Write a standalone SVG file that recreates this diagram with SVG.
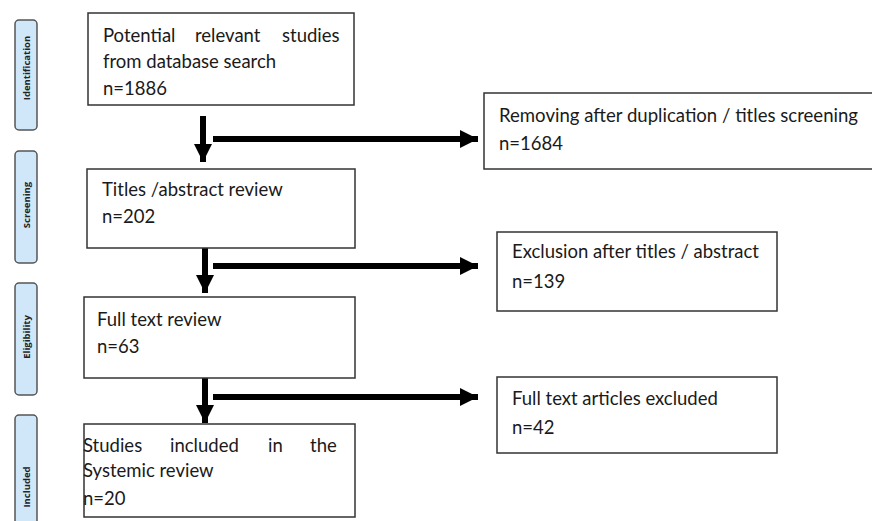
<svg xmlns="http://www.w3.org/2000/svg" width="872" height="521" viewBox="0 0 872 521">
<defs>
<style>
.box{fill:#fff;stroke:#333;stroke-width:1.5}
.side{fill:#cfe7f8;stroke:#555;stroke-width:1.5}
.t{font-family:Lato,"Liberation Sans",sans-serif;font-size:18.5px;fill:#1a1a1a}
.s{font-family:"Open Sans","Liberation Sans",sans-serif;font-size:9.5px;font-weight:bold;fill:#222;text-anchor:middle}
.arr{stroke:#000;stroke-width:6;fill:none;marker-end:url(#ah)}
</style>
<marker id="ah" markerUnits="userSpaceOnUse" markerWidth="19" markerHeight="19" refX="18" refY="9" orient="auto">
<path d="M0,0 L18,9 L0,18 z" fill="#000"/>
</marker>
</defs>
<rect width="872" height="521" fill="#fff"/>
<g id="side-identification"><rect class="side" x="15" y="20" width="22" height="110" rx="4"/><text class="s" transform="translate(29.5,68) rotate(-90)">Identification</text></g>
<g id="side-screening"><rect class="side" x="15" y="151" width="22" height="112" rx="4"/><text class="s" transform="translate(29.5,205) rotate(-90)">Screening</text></g>
<g id="side-eligibility"><rect class="side" x="15" y="283" width="22" height="112" rx="4"/><text class="s" transform="translate(29.5,337) rotate(-90)">Eligibility</text></g>
<g id="side-included"><rect class="side" x="15" y="415" width="22" height="140" rx="4"/><text class="s" transform="translate(29.5,487) rotate(-90)">Included</text></g>
<g id="connectors">
<line class="arr" x1="203" y1="116" x2="203" y2="162"/>
<line class="arr" x1="213" y1="139" x2="478" y2="139"/>
<line class="arr" x1="205" y1="248" x2="205" y2="293"/>
<line class="arr" x1="213" y1="266" x2="478" y2="266"/>
<line class="arr" x1="205" y1="378" x2="205" y2="423"/>
<line class="arr" x1="213" y1="397" x2="478" y2="397"/>
</g>
<g id="n1"><rect class="box" x="88" y="13" width="266" height="92"/>
<text class="t" y="42"><tspan x="103">Potential</tspan><tspan x="195">relevant</tspan><tspan x="282">studies</tspan></text>
<text class="t" x="103" y="68">from database search</text>
<text class="t" x="103" y="95">n=1886</text></g>
<g id="n2"><rect class="box" x="484" y="93" width="400" height="76"/>
<text class="t" x="499" y="122" textLength="359" lengthAdjust="spacingAndGlyphs">Removing after duplication / titles screening</text>
<text class="t" x="499" y="150">n=1684</text></g>
<g id="n3"><rect class="box" x="87" y="169" width="268" height="79"/>
<text class="t" x="102" y="196">Titles /abstract review</text>
<text class="t" x="102" y="223">n=202</text></g>
<g id="n4"><rect class="box" x="497" y="232" width="280" height="79"/>
<text class="t" x="512" y="258">Exclusion after titles / abstract</text>
<text class="t" x="512" y="288">n=139</text></g>
<g id="n5"><rect class="box" x="84" y="297" width="271" height="81"/>
<text class="t" x="97" y="326">Full text review</text>
<text class="t" x="97" y="353">n=63</text></g>
<g id="n6"><rect class="box" x="84" y="424" width="271" height="93"/>
<text class="t" y="452"><tspan x="83">Studies</tspan><tspan x="170">included</tspan><tspan x="268">in</tspan><tspan x="310">the</tspan></text>
<text class="t" x="83" y="477">Systemic review</text>
<text class="t" x="83" y="505">n=20</text></g>
<g id="n7"><rect class="box" x="497" y="377" width="280" height="76"/>
<text class="t" x="512" y="405">Full text articles excluded</text>
<text class="t" x="512" y="434">n=42</text></g>
</svg>
